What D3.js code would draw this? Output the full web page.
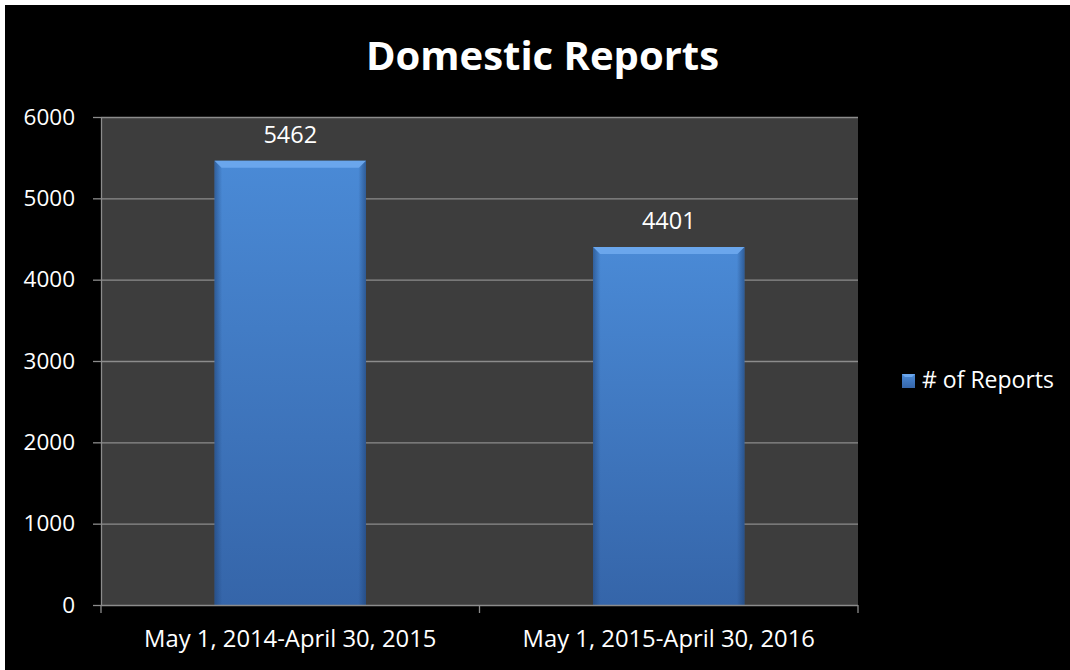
<!DOCTYPE html>
<html>
<head>
<meta charset="utf-8">
<script src="https://cdn.jsdelivr.net/npm/d3@7"></script>
<style>
	html, body { margin: 0; padding: 0; background: #ffffff; }
	svg { display: block; }
	text { font-family: 'Open Sans', sans-serif; fill: #ffffff; }
</style>
</head>
<body>
<div class="vis"></div>
<script>
'use strict';

// chart data
var title = 'Domestic Reports';
var seriesName = '# of Reports';
var categories = ['May 1, 2014-April 30, 2015', 'May 1, 2015-April 30, 2016'];
var reports = [5462, 4401];
var yTicks = [0, 1000, 2000, 3000, 4000, 5000, 6000];

(function () {
	var width = 1070;
	var height = 670;

	var plot = { left: 101, right: 858, top: 117, bottom: 605 };

	var data = categories.map(function (c, i) {
		return { category: c, value: reports[i] };
	});

	var x = d3.scaleBand()
		.domain(categories)
		.range([plot.left, plot.right])
		.paddingInner(0.6)
		.paddingOuter(0.3);

	var y = d3.scaleLinear()
		.domain([0, d3.max(yTicks)])
		.range([plot.bottom, plot.top]);

	var svg = d3.select('.vis')
		.append('svg')
			.attr('width', width)
			.attr('height', height);

	var defs = svg.append('defs');

	// bar gradient (lighter on top, darker toward the base)
	var grad = defs.append('linearGradient')
		.attr('id', 'barFill')
		.attr('x1', 0).attr('y1', 0).attr('x2', 0).attr('y2', 1);
	grad.append('stop').attr('offset', '0%').attr('stop-color', '#4a8ad6');
	grad.append('stop').attr('offset', '100%').attr('stop-color', '#3565a9');

	// side shading for the bevel
	var side = defs.append('linearGradient')
		.attr('id', 'barSide')
		.attr('x1', 0).attr('y1', 0).attr('x2', 1).attr('y2', 0);
	side.append('stop').attr('offset', '0%').attr('stop-color', '#1d3f70').attr('stop-opacity', 0.55);
	side.append('stop').attr('offset', '5%').attr('stop-color', '#1d3f70').attr('stop-opacity', 0);
	side.append('stop').attr('offset', '95%').attr('stop-color', '#1d3f70').attr('stop-opacity', 0);
	side.append('stop').attr('offset', '100%').attr('stop-color', '#1d3f70').attr('stop-opacity', 0.6);

	// background: black chart area with the white edge at top and left
	svg.append('rect')
		.attr('width', width).attr('height', height)
		.attr('fill', '#ffffff');
	svg.append('rect')
		.attr('x', 5).attr('y', 5)
		.attr('width', width - 5).attr('height', height - 5)
		.attr('fill', '#000000');

	// plot area
	svg.append('rect')
		.attr('x', plot.left).attr('y', plot.top)
		.attr('width', plot.right - plot.left).attr('height', plot.bottom - plot.top)
		.attr('fill', '#3d3d3d');

	// gridlines
	svg.append('g')
		.selectAll('line')
		.data(yTicks.filter(function (d) { return d > 0; }))
		.enter()
		.append('line')
			.attr('x1', plot.left).attr('x2', plot.right)
			.attr('y1', function (d) { return y(d) + 0.5; })
			.attr('y2', function (d) { return y(d) + 0.5; })
			.attr('stroke', '#8c8c8c')
			.attr('stroke-width', 1.3);

	// y axis
	var yAxis = svg.append('g')
		.attr('class', 'y-axis')
		.attr('transform', 'translate(' + plot.left + ',0)')
		.call(d3.axisLeft(y).tickValues(yTicks).tickFormat(d3.format('d'))
			.tickSize(8).tickPadding(18).tickSizeOuter(0));
	yAxis.select('.domain').attr('stroke', '#8c8c8c').attr('stroke-width', 1.3);
	yAxis.selectAll('.tick line').attr('stroke', '#8c8c8c').attr('stroke-width', 1.3);
	yAxis.selectAll('.tick text')
		.attr('fill', '#ffffff')
		.style('font-size', '22.5px')
		.style('font-family', "'Open Sans', sans-serif");

	// bars
	var bars = svg.append('g').selectAll('g.bar')
		.data(data)
		.enter()
		.append('g')
			.attr('class', 'bar');

	bars.append('rect')
		.attr('x', function (d) { return x(d.category); })
		.attr('y', function (d) { return y(d.value); })
		.attr('width', x.bandwidth())
		.attr('height', function (d) { return y(0) - y(d.value); })
		.attr('fill', 'url(#barFill)');

	bars.append('rect')
		.attr('x', function (d) { return x(d.category); })
		.attr('y', function (d) { return y(d.value); })
		.attr('width', x.bandwidth())
		.attr('height', function (d) { return y(0) - y(d.value); })
		.attr('fill', 'url(#barSide)');

	// top bevel strip with slanted corners
	bars.append('path')
		.attr('d', function (d) {
			var x0 = x(d.category), x1 = x0 + x.bandwidth(), t = y(d.value), b = 7;
			return 'M' + x0 + ',' + t + 'L' + x1 + ',' + t + 'L' + (x1 - b) + ',' + (t + b) +
				'L' + (x0 + b) + ',' + (t + b) + 'Z';
		})
		.attr('fill', '#6aa6ec');

	// value labels
	bars.append('text')
		.attr('x', function (d) { return x(d.category) + x.bandwidth() / 2; })
		.attr('y', function (d) { return y(d.value) - 18; })
		.attr('text-anchor', 'middle')
		.style('font-size', '23.5px')
		.text(function (d) { return d.value; });

	// x axis line and category boundary ticks
	var xAxis = svg.append('g').attr('class', 'x-axis');
	xAxis.append('line')
		.attr('x1', plot.left).attr('x2', plot.right)
		.attr('y1', plot.bottom + 0.5).attr('y2', plot.bottom + 0.5)
		.attr('stroke', '#8c8c8c').attr('stroke-width', 1.3);
	xAxis.selectAll('line.tick')
		.data(d3.range(categories.length + 1))
		.enter()
		.append('line')
			.attr('class', 'tick')
			.attr('x1', function (i) { return plot.left + i * x.step(); })
			.attr('x2', function (i) { return plot.left + i * x.step(); })
			.attr('y1', plot.bottom).attr('y2', plot.bottom + 8)
			.attr('stroke', '#8c8c8c').attr('stroke-width', 1.3);
	xAxis.selectAll('text')
		.data(categories)
		.enter()
		.append('text')
			.attr('x', function (c) { return x(c) + x.bandwidth() / 2; })
			.attr('y', 647)
			.attr('text-anchor', 'middle')
			.style('font-size', '23.8px')
			.text(function (c) { return c; });

	// title
	svg.append('text')
		.attr('x', 542.5)
		.attr('y', 70)
		.attr('text-anchor', 'middle')
		.style('font-size', '40px')
		.style('font-weight', 'bold')
		.text(title);

	// legend
	var legend = svg.append('g').attr('transform', 'translate(902,374)');
	legend.append('rect')
		.attr('width', 13).attr('height', 14)
		.attr('fill', 'url(#barFill)');
	legend.append('path')
		.attr('d', 'M0,0L13,0L10,3L3,3Z')
		.attr('fill', '#6aa6ec');
	legend.append('text')
		.attr('x', 20)
		.attr('y', 14)
		.style('font-size', '23px')
		.text(seriesName);
})();
</script>
</body>
</html>
